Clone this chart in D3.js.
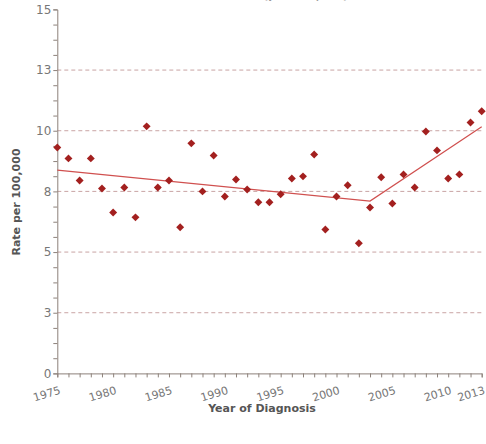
<!DOCTYPE html>
<html>
<head>
<meta charset="utf-8">
<script src="https://cdn.jsdelivr.net/npm/d3@7"></script>
<style>
  body { margin: 0; background: #fff; }
  svg { display: block; font-family: "DejaVu Sans", Verdana, sans-serif; }
</style>
</head>
<body>
<svg id="chart" width="486" height="444"></svg>
<script>
// observed rates
let years = d3.range(1975, 2014);
let rates = [9.31, 8.86, 7.95, 8.86, 7.62, 6.63, 7.66, 6.43, 10.18, 7.66,
             7.95, 6.02, 9.48, 7.50, 8.98, 7.29, 7.99, 7.58, 7.05, 7.05,
             7.38, 8.03, 8.12, 9.02, 5.93, 7.29, 7.75, 5.36, 6.84, 8.08,
             7.00, 8.20, 7.66, 9.97, 9.19, 8.03, 8.20, 10.34, 10.80];

// joinpoint fit
let trendYears = [1975, 2003, 2013];
let trendRates = [8.38, 7.10, 10.16];

let yTickValues = [0, 2.5, 5, 7.5, 10, 12.5, 15];
let yTickLabels = ["0", "3", "5", "8", "10", "13", "15"];
let xLabelYears = [1975, 1980, 1985, 1990, 1995, 2000, 2005, 2010, 2013];

let svg = d3.select("#chart");

let x = d3.scaleLinear().domain([1975, 2013]).range([57.3, 481.7]),
    y = d3.scaleLinear().domain([0, 15]).range([373.4, 9.4]);

// title, cropped at the top edge as in the original
svg.append("text")
    .attr("x", 258)
    .attr("y", -1)
    .attr("text-anchor", "middle")
    .attr("fill", "#999")
    .attr("font-size", "11px")
    .attr("font-weight", "bold")
    .text("Observed Rate (per 100,000)");

// dashed grid lines
svg.append("g").selectAll("line")
    .data(yTickValues.filter(function(d) { return d > 0 && d < 15; }))
    .enter().append("line")
    .attr("x1", x(1975))
    .attr("x2", x(2013))
    .attr("y1", function(d) { return y(d); })
    .attr("y2", function(d) { return y(d); })
    .attr("stroke", "#c9a4a4")
    .attr("stroke-width", 1)
    .attr("stroke-dasharray", "4,3");

// y axis
let yAxis = svg.append("g")
    .attr("transform", "translate(" + x(1975) + ",0)")
    .call(d3.axisLeft(y)
        .tickValues(d3.range(0, 15.001, 0.625))
        .tickSize(4)
        .tickFormat(function(d) {
            let i = yTickValues.indexOf(d);
            return i >= 0 ? yTickLabels[i] : "";
        }));
yAxis.select(".domain").attr("stroke", "#8c817a");
yAxis.selectAll(".tick line").attr("stroke", "#8c817a");
yAxis.selectAll(".tick text")
    .attr("fill", "#777")
    .attr("font-size", "12px")
    .attr("font-family", "DejaVu Sans, sans-serif")
    .attr("x", -6);

// x axis
let xAxis = svg.append("g")
    .attr("transform", "translate(0," + y(0) + ")")
    .call(d3.axisBottom(x)
        .tickValues(years)
        .tickSize(4)
        .tickFormat(""));
xAxis.select(".domain").attr("stroke", "#8c817a");
xAxis.selectAll(".tick line").attr("stroke", "#8c817a");

svg.append("g").selectAll("text")
    .data(xLabelYears)
    .enter().append("text")
    .attr("transform", function(d) {
        return "translate(" + (x(d) + 4) + "," + (y(0) + 20) + ") rotate(-17)";
    })
    .attr("text-anchor", "end")
    .attr("fill", "#777")
    .attr("font-size", "11px")
    .text(function(d) { return d; });

// axis titles
svg.append("text")
    .attr("x", 262)
    .attr("y", 412)
    .attr("text-anchor", "middle")
    .attr("fill", "#555")
    .attr("font-size", "11px")
    .attr("font-weight", "bold")
    .text("Year of Diagnosis");

svg.append("text")
    .attr("transform", "translate(20,202) rotate(-90)")
    .attr("text-anchor", "middle")
    .attr("fill", "#555")
    .attr("font-size", "11px")
    .attr("font-weight", "bold")
    .text("Rate per 100,000");

// trend line
let line = d3.line()
    .x(function(d, i) { return x(trendYears[i]); })
    .y(function(d) { return y(d); });

svg.append("path")
    .datum(trendRates)
    .attr("d", line)
    .attr("fill", "none")
    .attr("stroke", "#d0504f")
    .attr("stroke-width", 1.2);

// observed points as diamonds
svg.append("g").selectAll("path")
    .data(rates)
    .enter().append("path")
    .attr("transform", function(d, i) {
        return "translate(" + x(years[i]) + "," + y(d) + ")";
    })
    .attr("d", d3.symbol().type(d3.symbolDiamond2).size(40))
    .attr("fill", "#a3201f");
</script>
</body>
</html>
